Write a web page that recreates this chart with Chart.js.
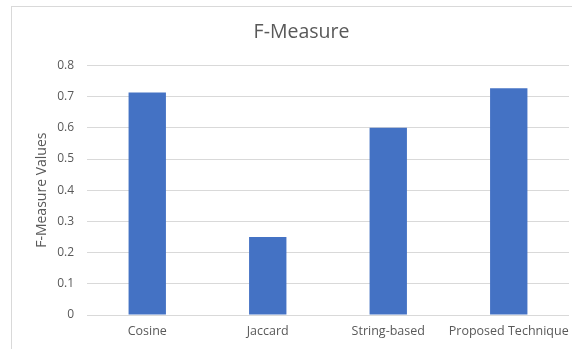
<!DOCTYPE html>
<html>
<head>
<meta charset="utf-8">
<script src="https://cdn.jsdelivr.net/npm/chart.js@4/dist/chart.umd.min.js"></script>
<style>
  html, body { margin: 0; padding: 0; background: #fff; overflow: hidden; }
  #wrap { position: relative; width: 572px; height: 349px; overflow: hidden; }
  #frame { position: absolute; left: 11px; top: 6px; width: 600px; height: 400px;
           border-left: 1px solid #d9d9d9; border-top: 1px solid #d9d9d9; }
  canvas { position: absolute; left: 12px; top: 7px; }
</style>
</head>
<body>
<div id="wrap">
  <div id="frame"></div>
  <canvas id="c" width="574" height="342"></canvas>
</div>
<script>
// Techniques compared and their F-measure scores
const categories = ['Cosine', 'Jaccard', 'String-based', 'Proposed Technique'];
const fMeasure = [0.713, 0.25, 0.6, 0.727];
const yTicks = [0, 0.1, 0.2, 0.3, 0.4, 0.5, 0.6, 0.7, 0.8];

const textColor = '#595959';
const fontFamily = "'Open Sans', 'Noto Sans', sans-serif";

new Chart(document.getElementById('c'), {
  type: 'bar',
  data: {
    labels: categories,
    datasets: [{
      data: fMeasure,
      backgroundColor: '#4472c4',
      borderWidth: 0,
      barPercentage: 0.31,
      categoryPercentage: 1
    }]
  },
  options: {
    responsive: false,
    animation: false,
    layout: { padding: { left: 22, right: 17, top: 0, bottom: 1 } },
    plugins: {
      legend: { display: false },
      tooltip: { enabled: false },
      title: {
        display: true,
        text: 'F-Measure',
        color: textColor,
        font: { family: fontFamily, size: 19.5, weight: 'normal' },
        padding: { top: 14, bottom: 21 }
      }
    },
    scales: {
      x: {
        grid: { display: false, drawTicks: false },
        border: { display: false },
        ticks: {
          color: textColor,
          font: { family: fontFamily, size: 12.5 },
          padding: 9,
          maxRotation: 0,
          autoSkip: false
        }
      },
      y: {
        min: 0,
        max: 0.8,
        afterBuildTicks: (axis) => { axis.ticks = yTicks.map(v => ({ value: v })); },
        afterFit: (axis) => { axis.width = 53; },
        grid: { color: '#d9d9d9', drawTicks: false, lineWidth: 1 },
        border: { display: false },
        ticks: {
          color: textColor,
          font: { family: fontFamily, size: 12 },
          padding: 13,
          callback: (v) => String(v)
        },
        title: {
          display: true,
          text: 'F-Measure Values',
          color: textColor,
          font: { family: fontFamily, size: 14 },
          padding: { top: 0, bottom: 4 }
        }
      }
    }
  }
});
</script>
</body>
</html>
